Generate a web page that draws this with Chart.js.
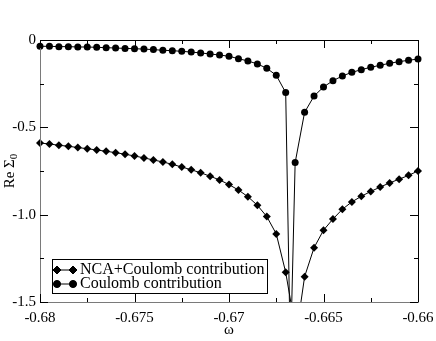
<!DOCTYPE html>
<html>
<head>
<meta charset="utf-8">
<script src="https://cdn.jsdelivr.net/npm/chart.js@4/dist/chart.umd.min.js"></script>
<style>
    html, body { margin: 0; padding: 0; background: #fff; }
    #grafica { display: block; }
</style>
</head>
<body>
<canvas id="grafica" width="436" height="341"></canvas>
<script>
// Datos
const omegaIzq = [-0.68, -0.6795, -0.679, -0.6785, -0.678, -0.6775, -0.677, -0.6765, -0.676,
    -0.6755, -0.675, -0.6745, -0.674, -0.6735, -0.673, -0.6725, -0.672, -0.6715, -0.671,
    -0.6705, -0.67, -0.6695, -0.669, -0.6685, -0.668, -0.6675, -0.667];
const omegaDer = [-0.666, -0.6655, -0.665, -0.6645, -0.664, -0.6635, -0.663, -0.6625,
    -0.662, -0.6615, -0.661, -0.6605, -0.66];

const coulombIzq = [-0.036, -0.036, -0.038, -0.038, -0.040, -0.040, -0.042, -0.044, -0.046,
    -0.048, -0.050, -0.052, -0.055, -0.059, -0.061, -0.065, -0.069, -0.074, -0.080,
    -0.086, -0.093, -0.107, -0.120, -0.137, -0.162, -0.202, -0.301];
const coulombDer = [-0.414, -0.321, -0.269, -0.233, -0.206, -0.185, -0.170, -0.156,
    -0.145, -0.133, -0.124, -0.116, -0.109];
// puntos del pico (casi fuera del gráfico)
const omegaPicoCoulomb = [-0.66675, -0.6665];
const coulombPico = [-1.82, -0.702];

const ncaIzq = [-0.590, -0.595, -0.603, -0.608, -0.616, -0.622, -0.630, -0.637, -0.645,
    -0.654, -0.664, -0.675, -0.687, -0.698, -0.712, -0.727, -0.743, -0.760, -0.780,
    -0.801, -0.828, -0.859, -0.897, -0.946, -1.011, -1.110, -1.330];
const ncaDer = [-1.355, -1.189, -1.089, -1.025, -0.969, -0.927, -0.895, -0.867,
    -0.842, -0.818, -0.797, -0.775, -0.750];
const omegaPicoNca = [-0.66665, -0.6665];
const ncaPico = [-1.55, -1.73];

// Ejes
const xTicks = [-0.68, -0.675, -0.67, -0.665, -0.66];
const xTickLabels = ["-0.68", "-0.675", "-0.67", "-0.665", "-0.66"];
const xMinor = [-0.6775, -0.6725, -0.6675, -0.6625];
const yTicks = [0, -0.5, -1.0, -1.5];
const yTickLabels = ["0", "-0.5", "-1.0", "-1.5"];
const yMinor = [-0.25, -0.75, -1.25];

const nombres = ["NCA+Coulomb contribution", "Coulomb contribution"];

function puntos(xs, ys) {
    return xs.map((x, i) => ({ x: x, y: ys[i] }));
}

const datosNca = puntos(omegaIzq, ncaIzq)
    .concat(puntos(omegaPicoNca, ncaPico))
    .concat(puntos(omegaDer, ncaDer));
const datosCoulomb = puntos(omegaIzq, coulombIzq)
    .concat(puntos(omegaPicoCoulomb, coulombPico))
    .concat(puntos(omegaDer, coulombDer));

const fuente = '"Liberation Serif", "Times New Roman", serif';

// Marco, marcas, etiquetas y leyenda
const marcoPlugin = {
    id: "marco",
    afterDraw(chart) {
        const ctx = chart.ctx;
        const a = chart.chartArea;
        const xs = chart.scales.x;
        const ys = chart.scales.y;
        ctx.save();
        ctx.lineWidth = 1;
        ctx.strokeStyle = "#000";

        // marco
        ctx.beginPath();
        ctx.moveTo(a.left + 0.5, a.top + 0.5);
        ctx.lineTo(a.right + 0.5, a.top + 0.5);
        ctx.lineTo(a.right + 0.5, a.bottom + 0.5);
        ctx.stroke();
        ctx.strokeStyle = "#7a7a7a";
        ctx.beginPath();
        ctx.moveTo(a.left + 0.5, a.top);
        ctx.lineTo(a.left + 0.5, a.bottom + 0.5);
        ctx.lineTo(a.right + 0.5, a.bottom + 0.5);
        ctx.stroke();

        ctx.strokeStyle = "#000";
        const marcaX = (v, len) => {
            const px = Math.round(xs.getPixelForValue(v)) + 0.5;
            ctx.beginPath();
            ctx.moveTo(px, a.bottom);
            ctx.lineTo(px, a.bottom - len);
            ctx.moveTo(px, a.top);
            ctx.lineTo(px, a.top + len);
            ctx.stroke();
        };
        const marcaY = (v, len) => {
            const py = Math.round(ys.getPixelForValue(v)) + 0.5;
            ctx.beginPath();
            ctx.moveTo(a.left, py);
            ctx.lineTo(a.left + len, py);
            ctx.moveTo(a.right, py);
            ctx.lineTo(a.right - len, py);
            ctx.stroke();
        };
        xTicks.forEach(v => marcaX(v, 8));
        xMinor.forEach(v => marcaX(v, 4));
        yTicks.forEach(v => marcaY(v, 8));
        yMinor.forEach(v => marcaY(v, 4));

        // etiquetas
        ctx.fillStyle = "#000";
        ctx.font = "15px " + fuente;
        ctx.textAlign = "center";
        ctx.textBaseline = "middle";
        xTicks.forEach((v, i) => {
            ctx.fillText(xTickLabels[i], xs.getPixelForValue(v), a.bottom + 16);
        });
        ctx.textAlign = "right";
        yTicks.forEach((v, i) => {
            ctx.fillText(yTickLabels[i], a.left - 4, ys.getPixelForValue(v));
        });

        // títulos
        ctx.textAlign = "center";
        ctx.fillText("\u03c9", (a.left + a.right) / 2, a.bottom + 28);

        ctx.save();
        ctx.translate(10, (a.top + a.bottom) / 2);
        ctx.rotate(-Math.PI / 2);
        ctx.textAlign = "left";
        ctx.textBaseline = "middle";
        const t = "Re \u03a3";
        const w = ctx.measureText(t).width;
        ctx.font = "11px " + fuente;
        const w0 = ctx.measureText("0").width;
        const x0 = -(w + w0) / 2;
        ctx.font = "15px " + fuente;
        ctx.fillText(t, x0, 0);
        ctx.font = "11px " + fuente;
        ctx.fillText("0", x0 + w, 4);
        ctx.restore();

        // leyenda
        const lx = 52, ly = 259, lw = 215, lh = 34;
        ctx.fillStyle = "#fff";
        ctx.fillRect(lx, ly, lw, lh);
        ctx.strokeStyle = "#000";
        ctx.strokeRect(lx + 0.5, ly + 0.5, lw, lh);
        const estilos = ["rectRot", "circle"];
        const radios = [4, 3.5];
        [270, 284].forEach((yy, i) => {
            ctx.strokeStyle = "#000";
            ctx.beginPath();
            ctx.moveTo(57, yy);
            ctx.lineTo(73, yy);
            ctx.stroke();
            ctx.fillStyle = "#000";
            [57, 73].forEach(px => {
                Chart.helpers.drawPoint(ctx, { pointStyle: estilos[i], radius: radios[i], rotation: 0, borderWidth: 1 }, px, yy);
                ctx.fill();
            });
            ctx.fillStyle = "#000";
            ctx.font = "16px " + fuente;
            ctx.textAlign = "left";
            ctx.textBaseline = "middle";
            ctx.fillText(nombres[i], 80, yy);
        });
        ctx.restore();
    }
};

const ctx = document.getElementById("grafica");
new Chart(ctx, {
    type: "line",
    data: {
        datasets: [{
            label: nombres[0],
            data: datosNca,
            borderColor: "#000",
            backgroundColor: "#000",
            borderWidth: 1,
            pointStyle: "rectRot",
            pointRadius: 4,
            pointBorderWidth: 0,
            tension: 0,
            clip: { left: 8, right: 8, top: 8, bottom: 0 }
        }, {
            label: nombres[1],
            data: datosCoulomb,
            borderColor: "#000",
            backgroundColor: "#000",
            borderWidth: 1,
            pointStyle: "circle",
            pointRadius: 3.5,
            pointBorderWidth: 0,
            tension: 0,
            clip: { left: 8, right: 8, top: 8, bottom: 0 }
        }]
    },
    options: {
        responsive: false,
        animation: false,
        devicePixelRatio: 1,
        layout: { padding: { left: 40, right: 18, top: 40, bottom: 39 } },
        plugins: {
            legend: { display: false },
            tooltip: { enabled: false }
        },
        scales: {
            x: { type: "linear", min: -0.68, max: -0.66, display: false },
            y: { type: "linear", min: -1.5, max: 0, display: false }
        }
    },
    plugins: [marcoPlugin]
});
</script>
</body>
</html>
